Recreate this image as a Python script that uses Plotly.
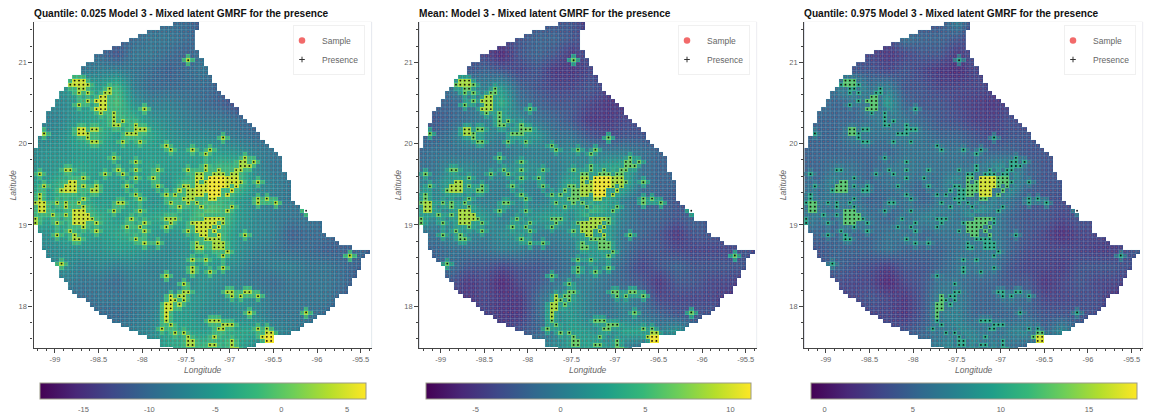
import plotly.graph_objects as go

TITLES = ["Quantile: 0.025 Model 3 - Mixed latent GMRF for the presence",
          "Mean: Model 3 - Mixed latent GMRF for the presence",
          "Quantile: 0.975 Model 3 - Mixed latent GMRF for the presence"]
X_TICKS = [-99, -98.5, -98, -97.5, -97, -96.5, -96, -95.5]
X_LABELS = ["-99", "-98.5", "-98", "-97.5", "-97", "-96.5", "-96", "-95.5"]
Y_TICKS = [18, 19, 20, 21]
CB_TICKS = [[-15, -10, -5, 0, 5], [-5, 0, 5, 10], [0, 5, 10, 15]]
CB_RANGE = [[-18.33, 6.39], [-7.94, 11.18], [-0.8, 17.7]]

# coarse field: 21 latitudes (21.5 to 17.5) x 21 longitudes (-99.3 to -95.3)
COARSE_LON = [-99.3, -99.1, -98.9, -98.7, -98.5, -98.3, -98.1, -97.9, -97.7, -97.5, -97.3,
              -97.1, -96.9, -96.7, -96.5, -96.3, -96.1, -95.9, -95.7, -95.5, -95.3]
COARSE_LAT = [21.5, 21.3, 21.1, 20.9, 20.7, 20.5, 20.3, 20.1, 19.9, 19.7, 19.5, 19.3, 19.1,
              18.9, 18.7, 18.5, 18.3, 18.1, 17.9, 17.7, 17.5]
FIELD_LOW = [
 [-10,-10,-10,-10,-10,-10,-10,-10,-10,-10,-12,-13,-12,-12,-12,-12,-12,-12,-12,-12,-12],
 [-10,-10,-10,-10,-10,-11,-10,-9,-9,-10,-11,-12,-12,-12,-12,-12,-12,-12,-12,-12,-12],
 [-10,-10,-10,-9,-10,-12,-9,-9,-10,-11,-9,-10,-11,-11,-11,-11,-11,-11,-11,-11,-11],
 [-8,-8,-8,-9,-8,-8,-9,-10,-11,-10,-9,-10,-11,-11,-11,-11,-11,-11,-11,-11,-11],
 [-6,-6,-6,-2,-5,-2,-8,-10,-10,-10,-10,-11,-12,-12,-12,-12,-12,-12,-12,-12,-12],
 [-7,-7,-7,-5,-4,-1,-6,-8,-8,-9,-10,-11,-13,-12,-12,-12,-12,-12,-12,-12,-12],
 [-8,-8,-7,-5,-4,-3,-3,-6,-7,-8,-9,-9,-10,-11,-11,-11,-11,-11,-11,-11,-11],
 [-7,-7,-6,-3,-3,-5,-3,-4,-6,-7,-7,-8,-9,-10,-10,-10,-10,-10,-10,-10,-10],
 [-7,-6,-6,-5,-5,-5,-5,-5,-5,-5,-5,-5,-6,-8,-9,-9,-9,-9,-9,-9,-9],
 [-6,-6,-5,-4,-5,-5,-5,-4,-5,-5,-4,-2,-2,-7,-9,-9,-9,-9,-9,-9,-9],
 [-4,-5,-2,-4,-5,-5,-5,-5,-6,-2,0,1,-2,-6,-8,-9,-9,-9,-9,-9,-9],
 [-2,-5,-3,-3,-5,-5,-4,-6,-5,-4,-1,-2,-5,-7,-8,-9,-9,-9,-9,-9,-9],
 [-1,-4,-4,0,-3,-5,-4,-4,-3,-4,0,-1,-5,-7,-8,-9,-9,-10,-10,-10,-10],
 [-6,-6,-4,-4,-5,-4,-3,-5,-6,-5,-1,-2,-6,-7,-8,-11,-10,-10,-11,-11,-11],
 [-7,-7,-6,-6,-6,-5,-5,-6,-7,-6,-4,-3,-6,-8,-9,-10,-10,-11,-11,-10,-12],
 [-8,-8,-6,-8,-7,-8,-7,-8,-7,-6,-5,-6,-7,-9,-8,-8,-9,-9,-10,-11,-12],
 [-9,-9,-8,-9,-9,-10,-8,-8,-8,-7,-6,-7,-8,-9,-10,-9,-9,-9,-10,-12,-12],
 [-9,-9,-9,-10,-9,-9,-9,-8,-7,-5,-6,-7,-5,-7,-9,-9,-9,-9,-11,-12,-12],
 [-11,-11,-11,-11,-10,-10,-9,-8,-5,-5,-7,-7,-7,-7,-9,-9,-9,-10,-12,-12,-12],
 [-11,-11,-11,-11,-10,-9,-8,-7,-4,-4,-5,-3,-4,-4,-7,-8,-9,-10,-10,-10,-10],
 [-10,-10,-10,-10,-9,-9,-8,-6,-4,-3,-2,-3,-4,-7,-8,-9,-9,-9,-9,-9,-9]]
FIELD_MEAN = [
 [-3,-3,-3,-3,-3,-3,-3,-3,-3,-3,-5,-6,-5,-5,-5,-5,-5,-5,-5,-5,-5],
 [-3,-3,-3,-3,-3,-4,-3,-2,-2,-3,-4,-5,-5,-5,-5,-5,-5,-5,-5,-5,-5],
 [-3,-3,-3,-3,-4,-6,-3,-2,-3,-5,-3,-3,-4,-4,-4,-4,-4,-4,-4,-4,-4],
 [-2,-2,-2,-3,-2,-3,-4,-3,-5,-5,-4,-4,-5,-5,-5,-5,-5,-5,-5,-5,-5],
 [-1,-1,-1,2,0,2,-2,-3,-4,-4,-3,-4,-5,-5,-5,-5,-5,-5,-5,-5,-5],
 [-2,-2,-2,-1,1,4,-1,-2,-3,-3,-4,-5,-5,-5,-5,-5,-5,-5,-5,-5,-5],
 [-3,-3,-2,-1,0,1,1,-1,-2,-3,-5,-5,-4,-4,-4,-4,-4,-4,-4,-4,-4],
 [-2,-2,-1,2,1,0,2,2,-1,-1,-3,-4,-3,-3,-3,-3,-3,-3,-3,-3,-3],
 [-2,-1,-1,-1,-1,-1,0,0,0,1,0,0,0,-1,-2,-2,-2,-2,-2,-2,-2],
 [-1,-1,1,1,0,1,2,1,0,1,1,3,4,-1,-2,-2,-2,-2,-2,-2,-2],
 [1,0,3,1,0,0,1,0,0,4,7,8,4,-1,-2,-2,-2,-2,-2,-2,-2],
 [4,1,1,1,0,0,1,0,1,2,4,3,0,-2,-2,-3,-3,-3,-3,-3,-3],
 [5,1,1,5,2,0,1,2,3,1,5,3,0,-2,-2,-3,-2,-3,-3,-3,-3],
 [-1,-1,1,1,0,1,2,0,0,1,4,3,-1,-2,-3,-5,-3,-3,-3,-3,-3],
 [-2,-2,-1,-1,-1,0,0,-1,-1,0,2,3,-1,-3,-3,-4,-4,-4,-4,-3,-5],
 [-3,-3,-1,-3,-3,-4,-3,-3,-2,-1,1,0,-2,-4,-3,-2,-3,-3,-3,-3,-5],
 [-3,-3,-3,-5,-4,-6,-4,-3,-1,0,0,-1,-2,-3,-5,-3,-3,-4,-4,-5,-5],
 [-3,-3,-4,-5,-4,-5,-5,-2,1,2,0,-1,1,-1,-4,-4,-4,-4,-5,-6,-6],
 [-4,-4,-4,-4,-4,-5,-5,-2,1,2,0,-1,0,-1,-2,-3,-3,-3,-3,-5,-5],
 [-4,-4,-4,-4,-4,-4,-3,-2,0,3,2,0,3,3,0,2,-1,-2,-2,-2,-2],
 [-3,-3,-3,-3,-3,-3,-2,0,1,2,3,2,0,-1,-1,-2,-2,-2,-2,-2,-2]]
FIELD_HIGH = [
 [4,4,4,4,4,4,4,4,4,7,3,2,3,3,3,3,3,3,3,3,3],
 [4,4,4,4,4,3,6,5,5,4,3,3,3,3,3,3,3,3,3,3,3],
 [4,4,4,4,3,2,3,4,4,2,4,4,4,4,4,4,4,4,4,4,4],
 [5,5,5,4,4,3,4,3,2,1.5,3,3,3,3,3,3,3,3,3,3,3],
 [5,6,6,10,6,7,4,4,3,3,3,3,3,3,3,3,3,3,3,3,3],
 [6,6,5,5,7,9,5,4,4,3,2.5,2,3,3,3,3,3,3,3,3,3],
 [5,5,5,5,6,7,6,5,4,3.5,2.5,2.5,3.5,3,3,3,3,3,3,3,3],
 [5,5,5,7,6,6,7,6,5,5,4,3,4,4,4,4,4,4,4,4,4],
 [5,5,5,5,5,5,6,6,6,6,5,5,5,4,4,4,4,4,4,4,4],
 [5,5,6,6,5,6,7,6,6,6,6,8,9,5,4,4,4,4,4,4,4],
 [6,5,8,6,5,6,6,5,6,9,12,13,9,5,4,4,4,4,4,4,4],
 [7,6,6,6,5,5,6,5,6,7,8,7,6,4,4,3.5,3.5,3.5,3.5,3.5,3.5],
 [9,6,5,9,6,5,6,7,8,6,9,7,5,4,4,3,4,3.5,3.5,3.5,3.5],
 [5,5,5,5,5,6,6,5,6,6,8,7,5,4,3,1.5,3,3,3,3,3],
 [4,4,5,5,5,6,5,5,5,6,6,7,5,3.5,3,3,3,2.5,2.5,4,6],
 [3.5,3.5,5,4,3.5,2.5,4,4,5,6,6,6,4,3,3,2.5,4,4,4,3.5,3],
 [3.5,3.5,3.5,3,3,1,3,4,6,6,5,5,4,4,2,3,4,3,3,2.5,2.5],
 [3.5,3.5,3,3,4,3,2,4,7,7,5,5,6,5,3,3,3.5,3.5,2,2,2],
 [3,3,3,3,3,3,2,4,7,7,5,5,5,5,4,4,4,3.5,3,3,3],
 [3,3,3,3,3,3.5,4,5,6,8,7,5,7,8,5,8,5,4,4,4,4],
 [4,4,4,4,4,4,5,6,7,8,8,8,6,5,5,4,4,4,4,4,4]]

# map outline: first and last 0.05-degree column of each 0.05-degree row, north to south
ROW_FIRST = [32,29,26,24,22,20,18,16,14,14,12,11,11,9,8,8,7,6,6,5,5,4,3,3,3,2,2,2,1,1,1,
             0,0,0,0,0,0,0,0,0,0,0,0,0,0,0,0,0,0,0,1,1,2,2,2,2,3,3,4,5,6,6,6,7,8,8,9,10,
             12,13,14,15,17,18,20,22,24,26,29,29,32]
ROW_LAST = [37,37,36,36,36,36,36,37,37,38,38,39,39,40,40,41,41,42,43,44,45,46,46,47,48,49,
            50,51,51,52,53,54,55,56,56,56,56,57,57,58,58,58,58,58,59,60,61,62,62,65,65,65,
            66,68,69,72,76,75,74,74,74,73,73,72,72,71,71,69,68,68,67,66,64,63,61,60,58,54,
            54,50,48]

# presence cells: row index -> column indices
PRESENCE = {
 9:[35],14:[9,10,11],15:[8,9,10,11,12],16:[10,11,17],17:[10,12,16,17],18:[15,16],
 19:[12,14,15,16],20:[10,15,16],21:[14,15,16,25],22:[15,18],23:[18],24:[18,20],
 25:[18,19,23],26:[10,11,13,14,23,24,25],27:[2,10,11,12,21,22,23],28:[12,43],
 29:[13,14,20,24],30:[30],31:[31,36,40],32:[39],33:[18,48],34:[23,47,48,50],
 35:[39,47,48,49],36:[7,8,19,23,28,35,39,42,46,47],37:[1,16,20,37,38,41,42,43,45,46],
 38:[11,23,27,37,38,40,41,42,43,44,45,46],39:[8,9,37,39,40,41,42,43,44,45,46,47,51],
 40:[2,7,8,9,11,14,21,28,34,35,37,38,39,40,41,42,43,44,46],
 41:[6,7,8,9,13,14,33,35,36,37,38,39,40,41,42,45],42:[1,23,30,32,35,36,37,38,40,41,42,44],
 43:[1,11,24,34,35,36,40,41,51,53],44:[0,1,2,5,7,10,19,20,31,35,37,51,55],
 45:[1,2,7,11,33,38,45],46:[1,2,9,10,11,18,24,44,62],47:[4,7,9,10,11,12],
 48:[0,9,10,11,12,13,22,30,31,32,39,40,41,42,43],49:[0,5,9,10,11,14,25,31,36,37,38,39,40,41,43],
 50:[11,21,24,30,37,38,39,40,42],51:[8,14,25,35,37,38,39,41],52:[5,9,38,39,42,48],
 53:[9,10,23,39,40,41,42],54:[25,28,37,41,42,43],55:[37,38,41,42,43],56:[44],57:[43,72],
 58:[36,39],59:[6],60:[36,43],61:[36,40],62:[30],64:[34],66:[34,35,44,45,48,49],
 67:[31,33,34,45,47,51],68:[31,32,34],69:[30,31,33],70:[30,31],71:[30,49,62],72:[30],
 73:[30,40,41,42],74:[31,43,44,45],75:[29,42,43,51,53],76:[32,34,53,54],77:[35,41,52,53,54],
 78:[35,36,45,53,54],79:[35,36,40,41,45],80:[45,46]}
# blocks of presence cells that read brighter: (first row, last row, first col, last col)
HOT_BLOCKS = [(14,15,9,11),(18,21,14,16),(26,27,10,11),(38,43,37,46),(39,41,7,9),(44,46,1,2),
              (46,49,9,12),(47,52,37,42),(67,72,30,31),(76,78,52,54)]
CORE_BLOCKS = [(38,42,40,43),(77,78,53,54)]
NEAR_VALUE = [-2, 2.5, 6.5]
ISO_VALUE = [3, 6.5, 10]
HOT_VALUE = [4.5, 8.5, 12.5]
CORE_VALUE = [6, 10.8, 16.5]
FIELDS = [FIELD_LOW, FIELD_MEAN, FIELD_HIGH]

W, H = 1153, 414
AX_PX = [(33.5, 371.7), (419.3, 756.7), (804.3, 1142.7)]
CB_PX = [(39.3, 365.7), (425.3, 750.7), (810.3, 1136.7)]
LEG_RIGHT = [365, 750, 1136]
TOP, BOTTOM = 22, 348.3
CB_TOP, CB_BOTTOM = 382.7, 399
XR, YR = [-99.246, -95.374], [17.484, 21.495]
NAN = float("nan")

cols = list(range(-2, 79))
rows = list(range(-2, 83))
lon = [-99.225 + 0.05 * k for k in cols]
lat = [21.475 - 0.05 * r for r in rows]

def inside(r, k):
    return 0 <= r < len(ROW_FIRST) and ROW_FIRST[r] <= k <= ROW_LAST[r]

def in_blocks(r, k, blocks):
    return any(a <= r <= b and c <= k <= d for a, b, c, d in blocks)

present = {(r, k) for r, ks in PRESENCE.items() for k in ks}
samples = [(r, k) for r in range(len(ROW_FIRST)) for k in range(ROW_FIRST[r], ROW_LAST[r] + 1)]

lat_edge = lambda r: 21.5 - 0.05 * r
lon_edge = lambda k: -99.25 + 0.05 * k
lx, ly = [], []
for r in range(len(ROW_FIRST)):
    lx += [lon_edge(ROW_FIRST[r]), lon_edge(ROW_LAST[r] + 1), None]
    ly += [lat_edge(r), lat_edge(r), None]
for k in range(0, 78):
    rs = [r for r in range(len(ROW_FIRST)) if inside(r, k)]
    if rs:
        lx += [lon_edge(k), lon_edge(k), None]
        ly += [lat_edge(rs[0]), lat_edge(rs[-1] + 1), None]

mask_z = [[NAN if inside(r, k) else 1 for k in cols] for r in rows]

fig = go.Figure()
layout = dict(width=W, height=H, margin=dict(l=0, r=0, t=0, b=0, autoexpand=False),
              paper_bgcolor="white", plot_bgcolor="white", showlegend=True,
              hovermode=False, font=dict(family="Liberation Sans", color="#666666"))
annotations, shapes = [], []

for p in range(3):
    sfx = "" if p == 0 else str(p + 1)
    xa, ya = "x" + sfx, "y" + sfx
    ca = "coloraxis" + sfx
    left, right = AX_PX[p]
    hot_z = []
    for r in rows:
        row = []
        for k in cols:
            if (r, k) in present:
                if in_blocks(r, k, CORE_BLOCKS):
                    row.append(CORE_VALUE[p])
                elif in_blocks(r, k, HOT_BLOCKS):
                    row.append(HOT_VALUE[p])
                else:
                    row.append(ISO_VALUE[p])
            elif {(r + 1, k), (r - 1, k), (r, k + 1), (r, k - 1)} & present:
                row.append(NEAR_VALUE[p])
            else:
                row.append(NAN)
        hot_z.append(row)

    fig.add_trace(go.Heatmap(x=COARSE_LON, y=COARSE_LAT, z=FIELDS[p], coloraxis=ca, zsmooth="best",
                             xaxis=xa, yaxis=ya, showlegend=False))
    fig.add_trace(go.Heatmap(x=lon, y=lat, z=hot_z, coloraxis=ca, xaxis=xa, yaxis=ya,
                             showlegend=False, hoverongaps=False))
    fig.add_trace(go.Heatmap(x=lon, y=lat, z=mask_z, showscale=False, xaxis=xa, yaxis=ya,
                             colorscale=[[0, "white"], [1, "white"]], showlegend=False))
    fig.add_trace(go.Scatter(x=lx, y=ly, mode="lines", xaxis=xa, yaxis=ya, showlegend=False,
                             line=dict(color="rgba(215,240,240,0.3)", width=0.6)))
    fig.add_trace(go.Scatter(x=[-99.225 + 0.05 * k for r, k in samples],
                             y=[21.475 - 0.05 * r for r, k in samples],
                             mode="markers", xaxis=xa, yaxis=ya, showlegend=False,
                             marker=dict(size=1.6, color="rgba(225,85,85,0.42)")))
    fig.add_trace(go.Scatter(x=[-99.225 + 0.05 * k for r, k in sorted(present)],
                             y=[21.475 - 0.05 * r for r, k in sorted(present)],
                             mode="markers", xaxis=xa, yaxis=ya, showlegend=False,
                             marker=dict(symbol="circle", size=1.8, color="#111111")))
    leg = "legend" + sfx
    fig.add_trace(go.Scatter(x=[None], y=[None], mode="markers", name="Sample", xaxis=xa, yaxis=ya,
                             legend=leg, marker=dict(size=6.5, color="rgba(240,80,80,0.85)")))
    fig.add_trace(go.Scatter(x=[None], y=[None], mode="markers", name="Presence", xaxis=xa, yaxis=ya,
                             legend=leg, marker=dict(symbol="cross-thin", size=4,
                                                     line=dict(width=1, color="#333333"))))
    layout[leg] = dict(x=LEG_RIGHT[p] / W, xanchor="right", y=1 - 25 / H, yanchor="top",
                       bgcolor="white", bordercolor="#f0f0f0", borderwidth=1, indentation=-12,
                       font=dict(size=8.5, color="#666666"), itemwidth=30, tracegroupgap=0)

    layout["xaxis" + sfx] = dict(domain=[left / W, right / W], range=XR, anchor=ya,
                                 tickvals=X_TICKS, ticktext=X_LABELS, showgrid=False, zeroline=False,
                                 ticks="outside", ticklen=4, tickcolor="#444444",
                                 showline=True, linecolor="#444444", linewidth=1.3,
                                 tickfont=dict(size=7.5, color="#666666"),
                                 minor=dict(dtick=0.1, ticks="outside", ticklen=2, tickcolor="#444444"))
    layout["yaxis" + sfx] = dict(domain=[1 - BOTTOM / H, 1 - TOP / H], range=YR, anchor=xa,
                                 tickvals=Y_TICKS, ticktext=[str(t) for t in Y_TICKS],
                                 showgrid=False, zeroline=False, ticks="outside", ticklen=4,
                                 tickcolor="#444444", showline=True, linecolor="#444444", linewidth=1.3,
                                 tickfont=dict(size=7.5, color="#666666"),
                                 minor=dict(dtick=0.2, ticks="outside", ticklen=2, tickcolor="#444444"))
    c0, c1 = CB_PX[p]
    layout[ca] = dict(colorscale="Viridis", cmin=CB_RANGE[p][0], cmax=CB_RANGE[p][1],
                      colorbar=dict(orientation="h", lenmode="pixels", len=c1 - c0,
                                    thickness=CB_BOTTOM - CB_TOP, thicknessmode="pixels",
                                    x=(c0 + c1) / 2 / W, xanchor="center", xpad=0, ypad=0,
                                    y=1 - CB_TOP / H, yanchor="top",
                                    outlinecolor="#999988", outlinewidth=1,
                                    tickvals=CB_TICKS[p], ticktext=[str(t) for t in CB_TICKS[p]],
                                    ticks="outside", ticklen=4, tickcolor="rgba(0,0,0,0)",
                                    tickfont=dict(size=7.5, color="#666666")))
    annotations += [
        dict(text="<b>" + TITLES[p] + "</b>", xref="paper", yref="paper", x=(left - 2) / W, y=1 - 13.5 / H,
             xanchor="left", yanchor="middle", showarrow=False,
             font=dict(size=10.15, color="#111111", family="Liberation Sans")),
        dict(text="<i>Longitude</i>", xref="paper", yref="paper", x=(left + right) / 2 / W, y=1 - 370 / H,
             showarrow=False, xanchor="center", yanchor="middle", font=dict(size=8.5, color="#666666")),
        dict(text="<i>Latitude</i>", xref="paper", yref="paper", x=(left - 21) / W, y=1 - 185 / H,
             showarrow=False, textangle=-90, xanchor="center", yanchor="middle",
             font=dict(size=8.5, color="#666666")),
    ]
    shapes.append(dict(type="rect", xref=xa + " domain", yref=ya + " domain", x0=0, x1=1, y0=0, y1=1,
                       line=dict(color="#f0f0f0", width=1), layer="below"))
    # short inside ticks of the colour bar, placed through the bar's own value range
    lo, hi = CB_RANGE[p]
    for t in CB_TICKS[p]:
        tx = (c0 + (t - lo) / (hi - lo) * (c1 - c0)) / W
        shapes.append(dict(type="line", xref="paper", yref="paper", x0=tx, x1=tx,
                           y0=1 - CB_BOTTOM / H, y1=1 - (CB_BOTTOM - 3) / H,
                           line=dict(color="#222222", width=1)))

layout["annotations"] = annotations
layout["shapes"] = shapes
fig.update_layout(**layout)
fig.write_html("out.html", config=dict(displayModeBar=False),
               post_script="document.body.style.margin='0';document.body.style.overflow='hidden';")
